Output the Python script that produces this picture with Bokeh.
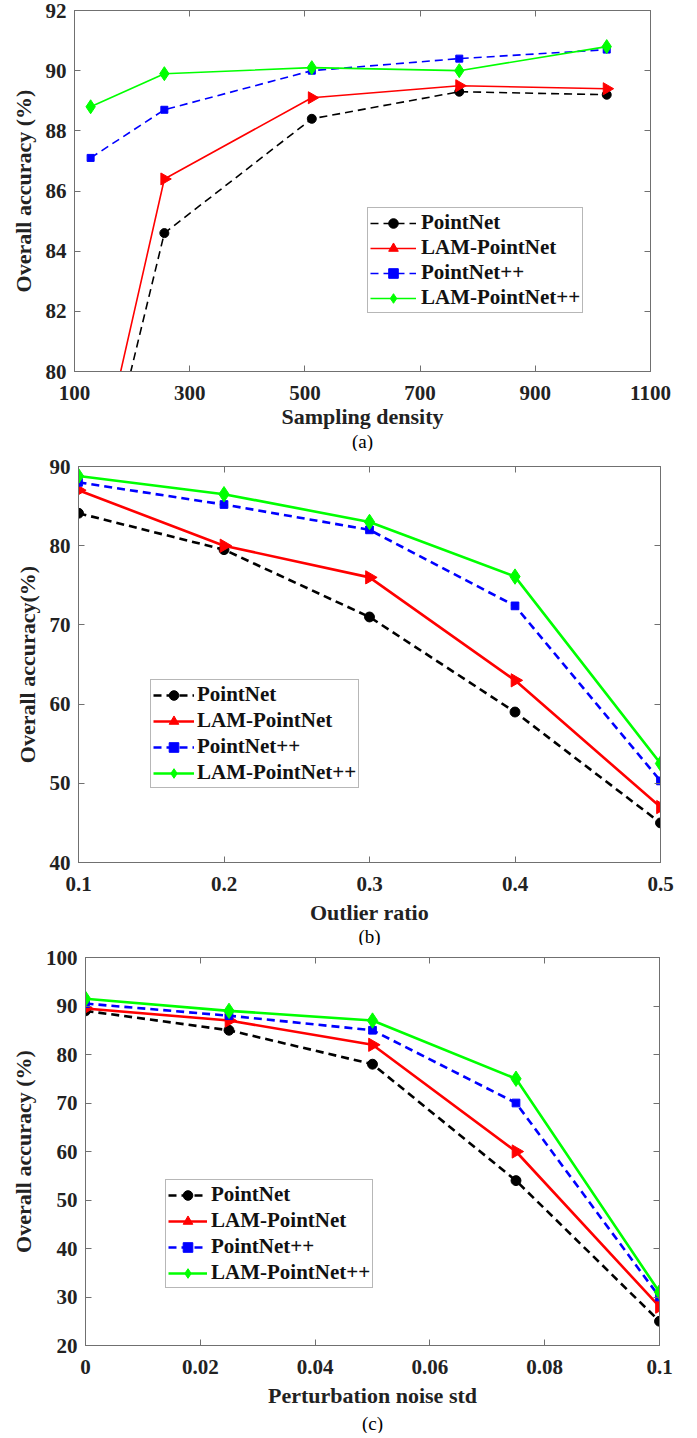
import numpy as np
from bokeh.plotting import figure
from bokeh.models import Range1d, LinearAxis, FixedTicker, Title, Legend, LegendItem
from bokeh.layouts import column, row
from bokeh.embed import file_html
from bokeh.resources import INLINE

series_names = ["PointNet", "LAM-PointNet", "PointNet++", "LAM-PointNet++"]

# ---- panel (a): sampling density ----
a_x = [128, 256, 512, 768, 1024]
a_pointnet = [74.5, 84.6, 88.4, 89.3, 89.2]
a_lam_pointnet = [75.6, 86.4, 89.1, 89.5, 89.4]
a_pointnet_pp = [87.1, 88.7, 90.0, 90.4, 90.7]
a_lam_pointnet_pp = [88.8, 89.9, 90.1, 90.0, 90.8]
a_xticks = [100, 300, 500, 700, 900, 1100]
a_xtick_labels = ["100", "300", "500", "700", "900", "1100"]
a_yticks = [80, 82, 84, 86, 88, 90, 92]

# ---- panel (b): outlier ratio ----
b_x = [0.1, 0.2, 0.3, 0.4, 0.5]
b_pointnet = [84.1, 79.5, 71.0, 59.0, 45.0]
b_lam_pointnet = [87.0, 80.0, 76.0, 63.0, 47.0]
b_pointnet_pp = [88.0, 85.2, 82.0, 72.4, 50.3]
b_lam_pointnet_pp = [88.8, 86.5, 83.0, 76.1, 52.5]
b_xticks = [0.1, 0.2, 0.3, 0.4, 0.5]
b_xtick_labels = ["0.1", "0.2", "0.3", "0.4", "0.5"]
b_yticks = [40, 50, 60, 70, 80, 90]

# ---- panel (c): perturbation noise ----
c_x = [0.0, 0.025, 0.05, 0.075, 0.1]
c_pointnet = [89.0, 85.0, 78.0, 54.0, 25.0]
c_lam_pointnet = [89.5, 87.0, 82.0, 60.0, 28.0]
c_pointnet_pp = [90.5, 88.0, 85.0, 70.0, 30.0]
c_lam_pointnet_pp = [91.5, 89.0, 87.0, 75.0, 31.0]
c_xticks = [0.0, 0.02, 0.04, 0.06, 0.08, 0.1]
c_xtick_labels = ["0", "0.02", "0.04", "0.06", "0.08", "0.1"]
c_yticks = [20, 30, 40, 50, 60, 70, 80, 90, 100]

# ---- styles ----
FONT = "Liberation Serif"
AX_COL = "#707070"


def styles(scale):
    return [
        dict(color="black", dash="8 5", marker="circle", size=9 * scale, angle=0.0),
        dict(color="#ff0000", dash="solid", marker="triangle", size=12 * scale, angle=-np.pi / 2),
        dict(color="#0000ff", dash="8 5", marker="square", size=7 * scale, angle=0.0),
        dict(color="#00ff00", dash="solid", marker="diamond", size=14 * scale, angle=0.0),
    ]


def make_caption(text, standoff, offset):
    kw = dict(text=text, align="center", text_font=FONT, text_font_style="normal",
              text_font_size="19px", text_color="black", offset=offset)
    try:
        return Title(standoff=standoff, **kw)
    except Exception:
        return Title(standoff=0, **kw)


def make_legend(items, loc, glyph_w, leg_standoff, leg_spacing):
    kw = dict(items=items, location=loc, label_text_font=FONT,
              label_text_font_style="bold", label_text_font_size="21px",
              label_text_color="#111111", glyph_width=glyph_w, glyph_height=24,
              label_height=22, label_standoff=leg_standoff,
              padding=2, margin=0,
              border_line_color=AX_COL, border_line_width=1,
              background_fill_color="white", background_fill_alpha=1.0)
    try:
        return Legend(spacing=leg_spacing, **kw)
    except Exception:
        return Legend(spacing=0, **kw)


def make_panel(xs, ys_list, xr, yr, xticks, xlabels, yticks, xtitle, ytitle, caption,
               width, height, left, right, top, bottom, lw, mscale,
               xtitle_standoff, cap_standoff, cap_offset,
               legend_loc, glyph_w, leg_standoff, leg_spacing):
    p = figure(width=width, height=height, output_backend="svg", toolbar_location=None,
               x_range=Range1d(*xr), y_range=Range1d(*yr),
               min_border_left=left, min_border_right=right,
               min_border_top=top, min_border_bottom=bottom)
    p.xgrid.visible = False
    p.ygrid.visible = False
    p.outline_line_color = AX_COL
    p.outline_line_width = 1
    p.background_fill_color = "white"
    p.border_fill_color = "white"

    xt = FixedTicker(ticks=xticks)
    yt = FixedTicker(ticks=yticks)
    p.xaxis.ticker = xt
    p.yaxis.ticker = yt
    p.xaxis.major_label_overrides = {t: l for t, l in zip(xticks, xlabels)}
    for ax in (p.xaxis[0], p.yaxis[0]):
        ax.major_tick_in = 6
        ax.major_tick_out = 0
        ax.minor_tick_line_color = None
        ax.axis_line_color = AX_COL
        ax.major_tick_line_color = AX_COL
        ax.major_label_text_font = FONT
        ax.major_label_text_font_style = "bold"
        ax.major_label_text_font_size = "21px"
        ax.major_label_text_color = "#222222"
        ax.axis_label_text_font = FONT
        ax.axis_label_text_font_style = "bold"
        ax.axis_label_text_font_size = "22px"
        ax.axis_label_text_color = "#222222"
    p.xaxis.axis_label = xtitle
    p.yaxis.axis_label = ytitle
    p.xaxis.major_label_standoff = 14
    p.xaxis.axis_label_standoff = xtitle_standoff
    p.yaxis.major_label_standoff = 8
    p.yaxis.axis_label_standoff = 7

    for side, tk in (("above", xt), ("right", yt)):
        ax = LinearAxis(ticker=tk, major_tick_in=6, major_tick_out=0,
                        minor_tick_line_color=None, axis_line_color=AX_COL,
                        major_tick_line_color=AX_COL, major_label_text_font_size="0px",
                        major_label_text_color=None, major_label_standoff=0)
        p.add_layout(ax, side)

    p.add_layout(make_caption(caption, cap_standoff, cap_offset), "below")

    items = []
    for name, ys, st in zip(series_names, ys_list, styles(mscale)):
        lr = p.line(xs, ys, line_color=st["color"], line_width=lw, line_dash=st["dash"])
        mr = p.scatter(xs, ys, marker=st["marker"], size=st["size"], angle=st["angle"],
                       fill_color=st["color"], line_color=st["color"])
        items.append(LegendItem(label=name, renderers=[lr, mr]))
    p.add_layout(make_legend(items, legend_loc, glyph_w, leg_standoff, leg_spacing))
    return p


pa = make_panel(a_x, [a_pointnet, a_lam_pointnet, a_pointnet_pp, a_lam_pointnet_pp],
                (100, 1100), (80, 92), a_xticks, a_xtick_labels, a_yticks,
                "Sampling density", "Overall accuracy (%)", "(a)",
                688, 451, 74, 38, 10, 80, 1.6, 1.0,
                1, -6, -22,
                (293, 58), 46, 5, -1)
pb = make_panel(b_x, [b_pointnet, b_lam_pointnet, b_pointnet_pp, b_lam_pointnet_pp],
                (0.1, 0.5), (40, 90), b_xticks, b_xtick_labels, b_yticks,
                "Outlier ratio", "Overall accuracy(%)", "(b)",
                688, 494, 78, 28, 15, 83, 2.6, 1.1,
                6, -8, -21,
                (72, 74), 41, 3, 1)
pc = make_panel(c_x, [c_pointnet, c_lam_pointnet, c_pointnet_pp, c_lam_pointnet_pp],
                (0.0, 0.1), (20, 100), c_xticks, c_xtick_labels, c_yticks,
                "Perturbation noise std", "Overall accuracy (%)", "(c)",
                688, 488, 85, 29, 12, 87, 2.6, 1.1,
                6, 0, -25,
                (80, 57), 39, 4, 1)

layout = column(row(pa), row(pb), row(pc))
open("out.html", "w").write(file_html(layout, INLINE))
